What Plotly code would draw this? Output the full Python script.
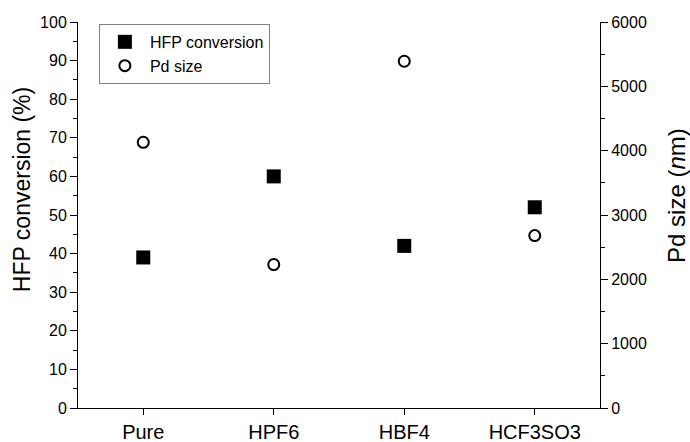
import plotly.graph_objects as go

categories = ["Pure", "HPF6", "HBF4", "HCF3SO3"]
hfp_conversion = [39, 60, 42, 52]
pd_size = [4130, 2230, 5390, 2680]

FONT = "Liberation Sans, Arial, sans-serif"

fig = go.Figure()
fig.add_trace(go.Scatter(
    x=categories, y=hfp_conversion, mode="markers", name="HFP conversion",
    marker=dict(symbol="square", size=14, color="black", line=dict(width=0)),
))
fig.add_trace(go.Scatter(
    x=categories, y=pd_size, mode="markers", name="Pd size", yaxis="y2",
    marker=dict(symbol="circle", size=11, color="white", line=dict(width=2, color="black")),
))

axis_common = dict(showline=True, linecolor="black", linewidth=1, ticks="outside",
                   ticklen=7, tickwidth=1, tickcolor="black", showgrid=False,
                   zeroline=False, automargin=False,
                   tickfont=dict(family=FONT, size=16, color="black"))

fig.update_layout(
    width=690, height=442,
    margin=dict(l=78, r=90, t=22, b=34, autoexpand=False),
    plot_bgcolor="white", paper_bgcolor="white",
    font=dict(family=FONT, color="black"),
    showlegend=True,
    legend=dict(x=0.04, y=0.995, xanchor="left", yanchor="top",
                bordercolor="#808080", borderwidth=1, bgcolor="white",
                font=dict(family=FONT, size=16, color="black"),
                tracegroupgap=0, itemsizing="trace", itemwidth=40),
    xaxis=dict(type="category", range=[-0.5, 3.5], **{**axis_common,
               "ticklen": 6,
               "tickfont": dict(family=FONT, size=20, color="black")}),
    yaxis=dict(range=[0, 100], dtick=10, **axis_common,
               minor=dict(ticks="outside", dtick=5, ticklen=4, tickcolor="black")),
    yaxis2=dict(range=[0, 6000], dtick=1000, overlaying="y", side="right", **axis_common,
                minor=dict(ticks="outside", dtick=500, ticklen=4, tickcolor="black")),
    annotations=[
        dict(text="HFP conversion (%)", xref="paper", yref="paper", x=-0.1073, y=0.567,
             textangle=-90, showarrow=False, xanchor="center", yanchor="middle",
             font=dict(family=FONT, size=23, color="black")),
        dict(text="Pd size (<i>n</i>m)", xref="paper", yref="paper", x=1.1475, y=0.552,
             textangle=-90, showarrow=False, xanchor="center", yanchor="middle",
             font=dict(family=FONT, size=24, color="black")),
    ],
)

fig.write_html("out.html", config={"displayModeBar": False},
               post_script="document.body.style.margin='0';document.body.style.padding='0';")
